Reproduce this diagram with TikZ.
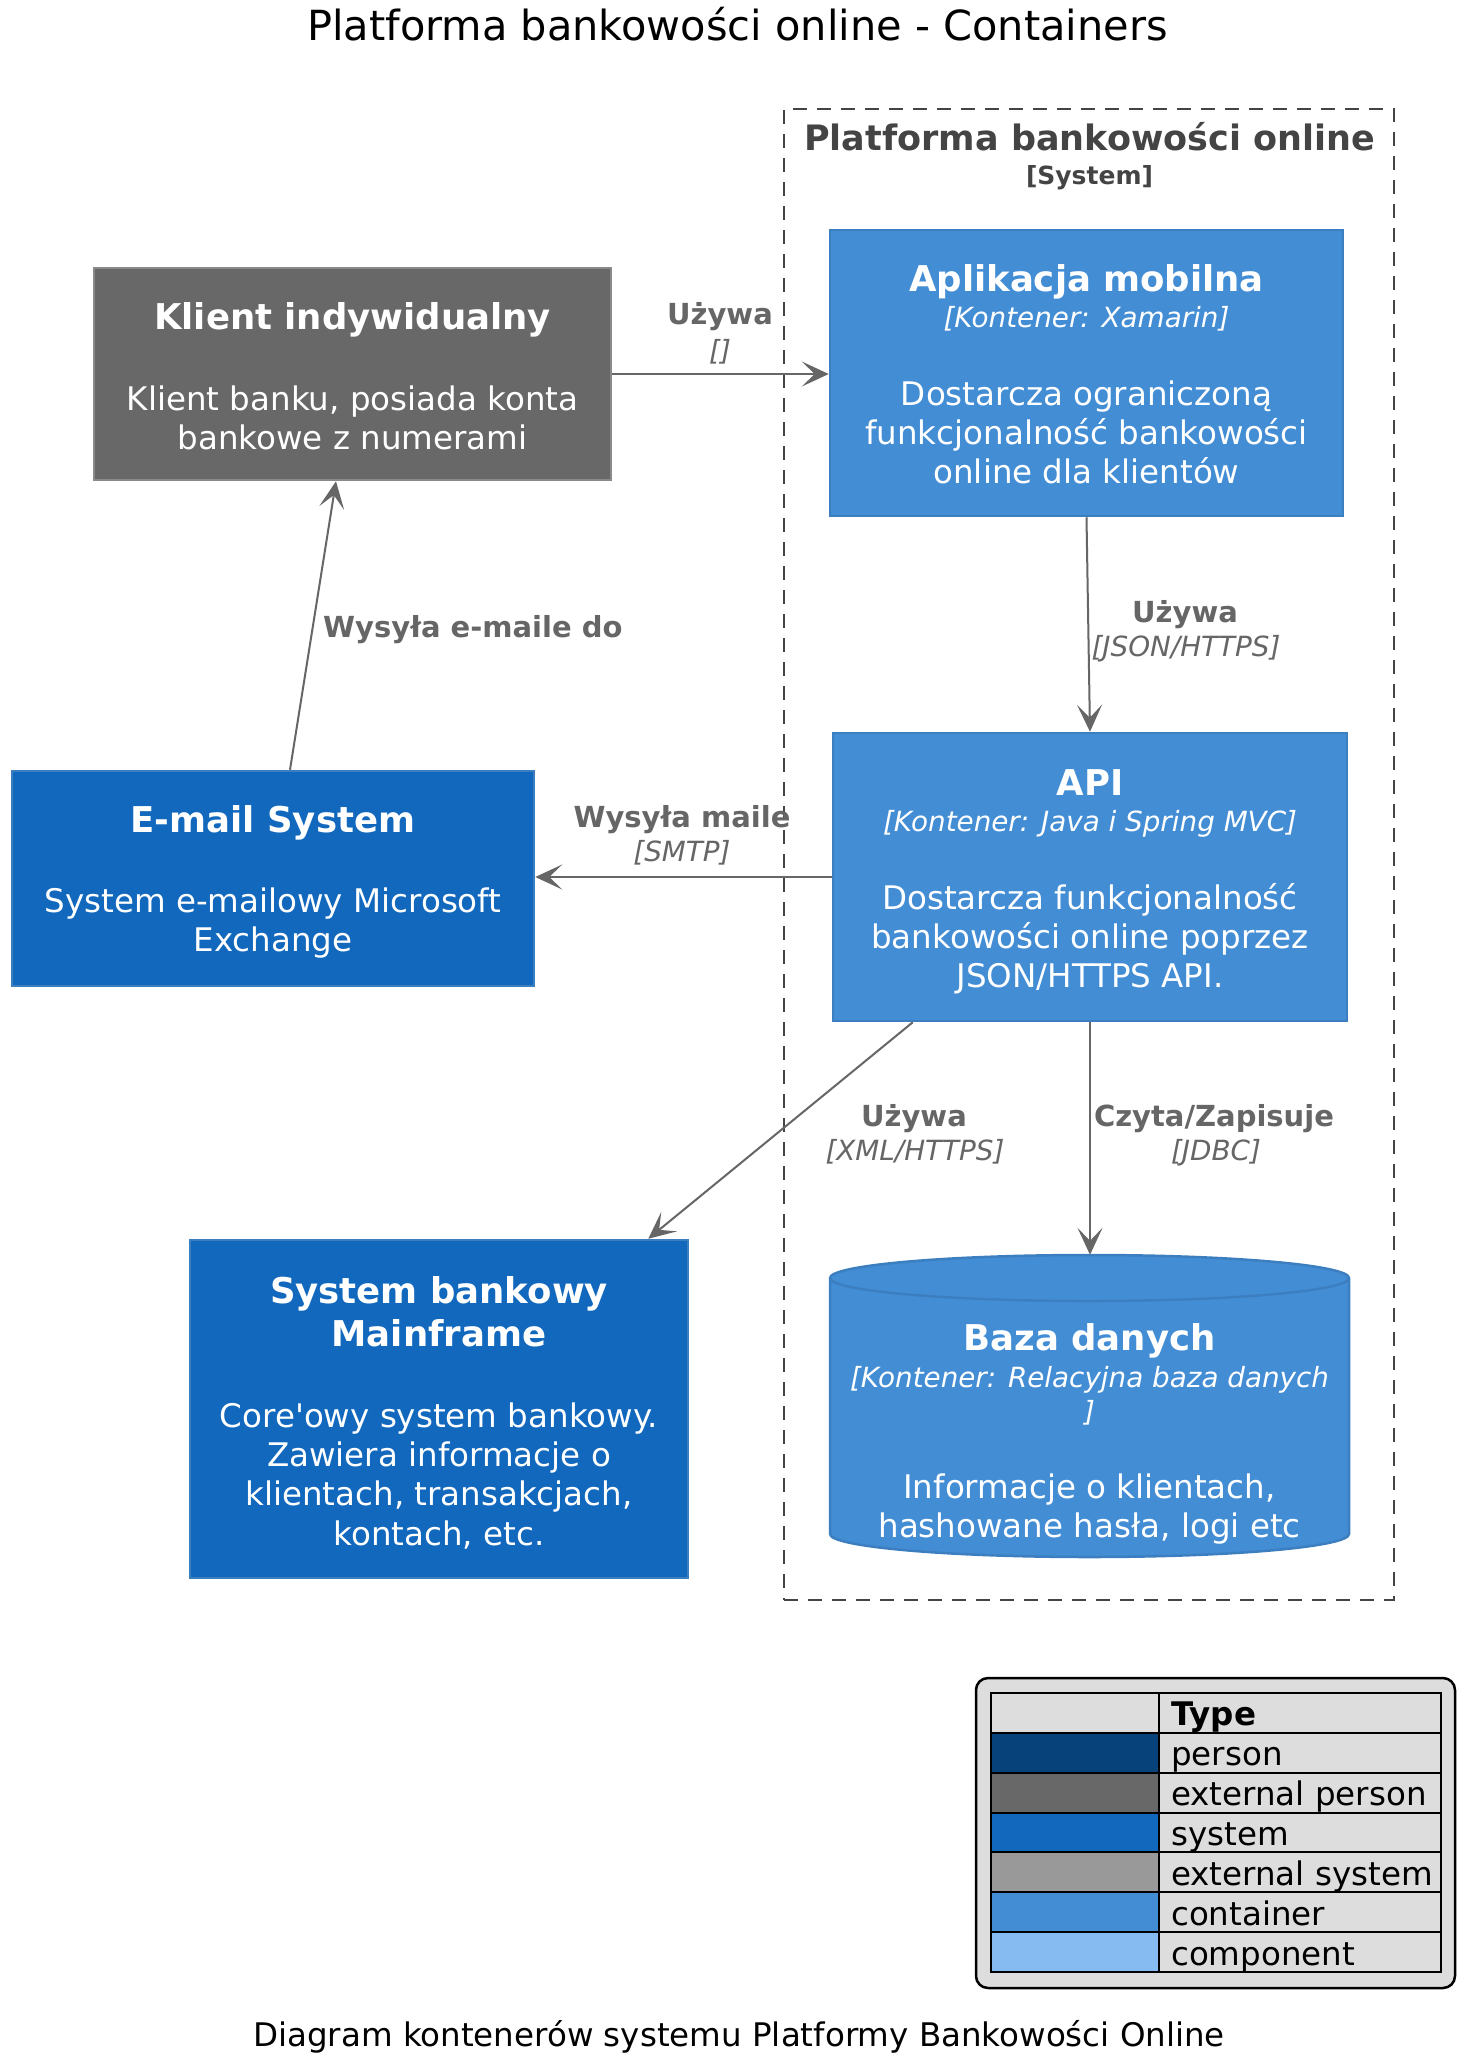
\documentclass[tikz,border=0pt]{standalone}
\usepackage{fontspec}
\setmainfont{DejaVu Sans}
\usetikzlibrary{arrows.meta,calc}

\definecolor{extperson}{HTML}{686868}
\definecolor{extpersonborder}{HTML}{8A8A8A}
\definecolor{systemc}{HTML}{1168BD}
\definecolor{systemborder}{HTML}{3C7FC0}
\definecolor{containerc}{HTML}{438DD5}
\definecolor{containerborder}{HTML}{3C7FC0}
\definecolor{personc}{HTML}{08427B}
\definecolor{extsystem}{HTML}{999999}
\definecolor{componentc}{HTML}{85BBF0}
\definecolor{relcol}{HTML}{666666}
\definecolor{bndcol}{HTML}{444444}
\definecolor{legbg}{HTML}{DDDDDD}

\newcommand{\fdesc}{\fontsize{32.5}{39.3}\selectfont}
\newcommand{\ftitle}{\fontsize{35.5}{43}\selectfont\bfseries}
\newcommand{\ftech}{\fontsize{27.8}{34}\selectfont\itshape}
\newcommand{\frel}{\fontsize{29}{34}\selectfont\bfseries}

\tikzset{
  elem/.style={draw, line width=2.5pt, inner sep=0pt},
  contbox/.style={elem, fill=containerc, draw=containerborder},
  sysbox/.style={elem, fill=systemc, draw=systemborder},
  extpbox/.style={elem, fill=extperson, draw=extpersonborder},
  bndbox/.style={draw=bndcol, line width=2pt, dash pattern=on 14pt off 10pt, inner sep=0pt},
  wtxt/.style={text=white, inner sep=0pt, anchor=base, align=center},
  ttl/.style={wtxt, font=\ftitle},
  tch/.style={wtxt, font=\ftech},
  dsc/.style={wtxt, font=\fdesc},
  rlab/.style={text=relcol, inner sep=0pt, anchor=base, align=center, font=\frel},
  rtech/.style={text=relcol, inner sep=0pt, anchor=base, align=center, font=\ftech},
  rel/.style={draw=relcol, line width=2pt, -{Stealth[length=27pt,width=25pt,inset=13pt]}},
  legtxt/.style={text=black, inner sep=0pt, anchor=base west, font=\fontsize{32.5}{39}\selectfont},
}

\begin{document}
\begin{tikzpicture}[x=1pt,y=-1pt]
\useasboundingbox (0,0) rectangle (1478,2072);
\fill[white] (0,0) rectangle (1478,2072);

% title
\node[inner sep=0pt, anchor=base, font=\fontsize{41.5}{48}\selectfont] (title) at (737.5,40.7) {Platforma bankowości online - Containers};

% boundary
\node[bndbox, minimum width=610pt, minimum height=1491pt] (bnd) at (1089,854.5) {};
\node[inner sep=0pt, anchor=base, text=bndcol, font=\fontsize{35}{42}\selectfont\bfseries] (bndt) at (1089.5,150) {Platforma bankowości online};
\node[inner sep=0pt, anchor=base, text=bndcol, font=\fontsize{25}{30}\selectfont\bfseries] (bnds) at (1089.5,184) {[System]};

% elements
\node[extpbox, minimum width=517pt, minimum height=212pt] (klient) at (352.5,374) {};
\node[contbox, minimum width=513pt, minimum height=286pt] (mobile) at (1086.5,373) {};
\node[contbox, minimum width=514pt, minimum height=288pt] (api) at (1090,877) {};
\node[sysbox, minimum width=522pt, minimum height=215pt] (email) at (273,878.5) {};
\node[sysbox, minimum width=498pt, minimum height=338pt] (mainframe) at (439,1409) {};
\node[inner sep=0pt, minimum width=519pt, minimum height=302pt] (db) at (1089.5,1406) {};
\filldraw[fill=containerc, draw=containerborder, line width=2.5pt]
  (830,1278) -- (830,1534) arc[start angle=180, end angle=360, x radius=259.5pt, y radius=23pt]
  -- (1349,1278) arc[start angle=0, end angle=180, x radius=259.5pt, y radius=23pt] -- cycle;
\draw[draw=containerborder, line width=2.5pt] (830,1278) arc[start angle=180, end angle=360, x radius=259.5pt, y radius=23pt];

% element texts (multi-line nodes: base = last line's baseline)
\node[ttl] (klient-t) at (352.5,329.3) {Klient indywidualny};
\node[dsc] (klient-d) at (352.5,449.3) {Klient banku, posiada konta\\bankowe z numerami};

\node[ttl] (mobile-t) at (1086.5,291.3) {Aplikacja mobilna};
\node[tch] (mobile-k) at (1086.5,327.3) {[Kontener: Xamarin]};
\node[dsc] (mobile-d) at (1086.5,483.9) {Dostarcza ograniczoną\\funkcjonalność bankowości\\online dla klientów};

\node[ttl] (api-t) at (1090,795) {API};
\node[tch] (api-k) at (1090,831) {[Kontener: Java i Spring MVC]};
\node[dsc] (api-d) at (1090,987.6) {Dostarcza funkcjonalność\\bankowości online poprzez\\JSON/HTTPS API.};

\node[ttl] (email-t) at (273,832.5) {E-mail System};
\node[dsc] (email-d) at (273,951.3) {System e-mailowy Microsoft\\Exchange};

\node[ttl] (mf-t) at (439,1346) {System bankowy\\Mainframe};
\node[dsc] (mf-d) at (439,1545) {Core\textquotesingle owy system bankowy.\\Zawiera informacje o\\klientach, transakcjach,\\kontach, etc.};

\node[ttl] (db-t) at (1089.5,1350) {Baza danych};
\node[tch] (db-k) at (1089.5,1421) {[Kontener: Relacyjna baza danych\\]};
\node[dsc] (db-d) at (1089.5,1537.3) {Informacje o klientach,\\hashowane hasła, logi etc};

% connectors
\draw[rel] (klient.east) -- (klient.east -| mobile.west);
\draw[rel] (mobile.south) -- (api.north);
\draw[rel] (api.west) -- (api.west -| email.east);
\draw[rel] ([xshift=17pt]email.north) -- ([xshift=-16.5pt]klient.south);
\draw[rel] ([xshift=81pt]api.south west) -- ([xshift=-41pt]mainframe.north east);
\draw[rel] (api.south) -- (api.south |- db.north);

% connector labels
\node[rlab] (r1) at (720,324) {Używa};
\node[rtech] (r1t) at (720,360) {[]};
\node[rlab] (r2) at (1185,622) {Używa};
\node[rtech] (r2t) at (1186,656) {[JSON/HTTPS]};
\node[rlab] (r3) at (682,827) {Wysyła maile};
\node[rtech] (r3t) at (682,861) {[SMTP]};
\node[rlab, anchor=base west] (r4) at (323,637) {Wysyła e-maile do};
\node[rlab] (r5) at (914,1126) {Używa};
\node[rtech] (r5t) at (915,1160) {[XML/HTTPS]};
\node[rlab] (r6) at (1214,1126) {Czyta/Zapisuje};
\node[rtech] (r6t) at (1216,1160) {[JDBC]};

% legend
\node[draw=black, line width=2.5pt, fill=legbg, rounded corners=12pt, minimum width=479pt, minimum height=310pt, inner sep=0pt] (legend) at (1215.5,1833) {};
\foreach \i/\col/\lab in {0/legbg/{\bfseries Type},1/personc/person,2/extperson/external person,3/systemc/system,4/extsystem/external system,5/containerc/container,6/componentc/component}{
  \pgfmathsetmacro{\ytop}{1693+39.857*\i}
  \pgfmathsetmacro{\ybot}{1693+39.857*(\i+1)}
  \draw[black, line width=2pt, fill=\col] (991,\ytop) rectangle (1159,\ybot);
  \draw[black, line width=2pt, fill=legbg] (1159,\ytop) rectangle (1441,\ybot);
  \node[legtxt] (leg\i) at (1171,\ybot-7) {\lab};
}

% caption
\node[inner sep=0pt, anchor=base, font=\fontsize{32.5}{38}\selectfont] (caption) at (739,2046.7) {Diagram kontenerów systemu Platformy Bankowości Online};
\end{tikzpicture}
\end{document}
